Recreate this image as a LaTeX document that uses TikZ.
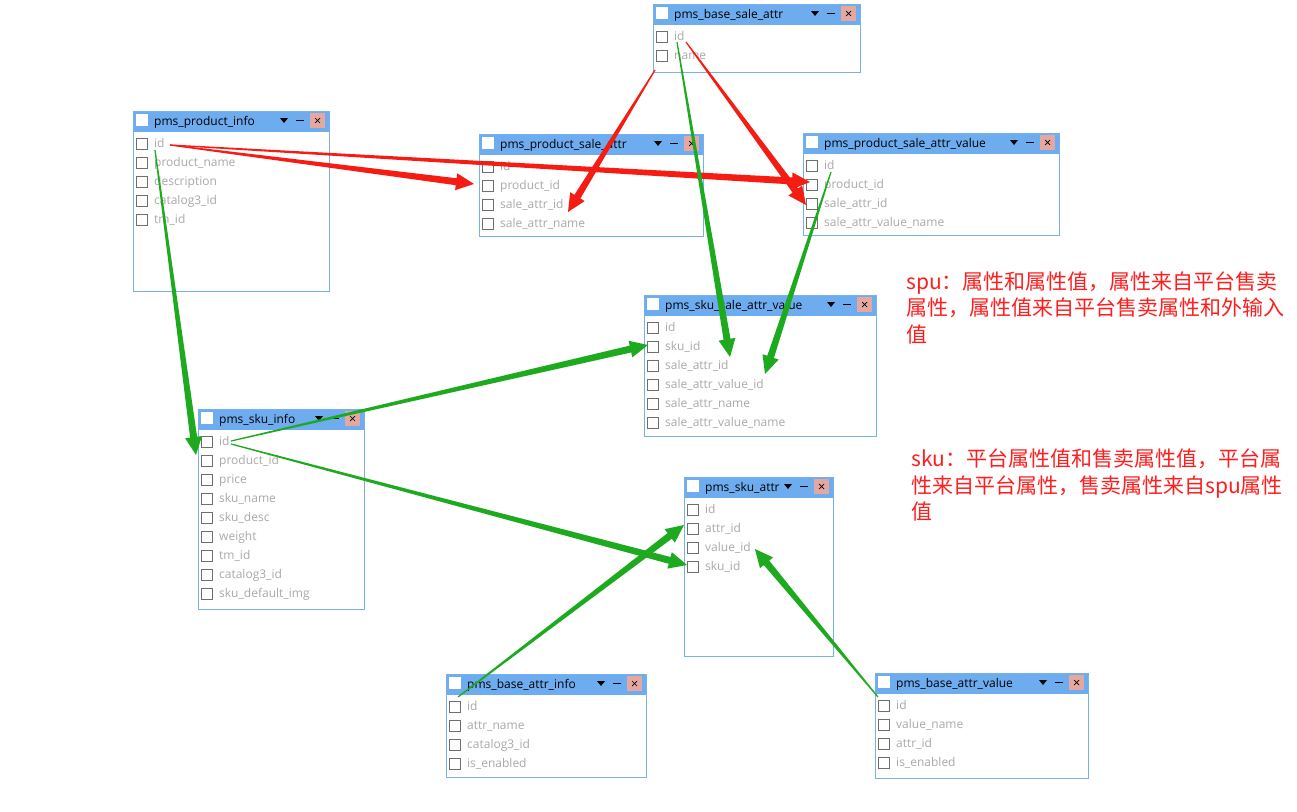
\documentclass[tikz,border=0pt]{standalone}
\usepackage{fontspec}
\setmainfont{Open Sans}
\newfontfamily\cjkfont{Noto Sans CJK SC}
\usetikzlibrary{calc}

\definecolor{headblue}{RGB}{110,172,240}
\definecolor{edgeblue}{RGB}{118,176,238}
\definecolor{closepink}{RGB}{228,168,160}
\definecolor{rowgray}{RGB}{172,168,168}
\definecolor{boxgray}{RGB}{110,110,110}
\definecolor{arrowred}{RGB}{245,28,20}
\definecolor{arrowgreen}{RGB}{30,170,30}
\definecolor{notered}{RGB}{255,30,30}

\tikzset{
  titletext/.style={font=\fontsize{12}{14}\selectfont, text=black, inner sep=0pt,
    anchor=west, text height=9pt, text depth=3pt},
  rowtext/.style={font=\fontsize{12}{14}\selectfont, text=rowgray, inner sep=0pt,
    anchor=west, text height=9pt, text depth=3pt},
  notetext/.style={font=\cjkfont\fontsize{21}{26}\selectfont, text=notered,
    inner sep=0pt, anchor=base west},
}

% a table window: id, left, top, right, bottom, title, rows
\newcommand\dbtable[7]{%
  \fill[white] (#2,#3) rectangle (#4,#5);
  \fill[headblue] (#2,#3) rectangle (#4,{#3+21});
  \draw[edgeblue, line width=1pt] (#2,#3) rectangle (#4,#5);
  \fill[white] ({#2+3},{#3+3}) rectangle ({#2+15},{#3+15});
  \node[titletext] (#1-title) at ({#2+21},{#3+11.5}) {#6};
  \fill[closepink] ({#4-19},{#3+2}) rectangle ({#4-4},{#3+17});
  \draw[black, line width=0.7pt] ({#4-14},{#3+7}) -- ({#4-9},{#3+12})
    ({#4-14},{#3+12}) -- ({#4-9},{#3+7});
  \draw[black, line width=1pt] ({#4-33},{#3+9}) -- ({#4-25},{#3+9});
  \fill[black] ({#4-49},{#3+7}) -- ({#4-41},{#3+7}) -- ({#4-45},{#3+12}) -- cycle;
  \foreach \rowtxt [count=\i] in {#7} {
    \draw[boxgray, line width=0.9pt] ({#2+3.5},{#3+33+19*(\i-1)-5.5}) rectangle ++(11,11);
    \node[rowtext] (#1-\i) at ({#2+21},{#3+33+19*(\i-1)}) {\rowtxt};
  }
}

% tapered arrow: colour, from, to
\newcommand\taper[3]{%
  \coordinate (tp-h) at ($(#3)!18pt!(#2)$);
  \fill[#1] ($(#2)!0.6pt!90:(#3)$) -- ($(tp-h)!3.5pt!90:(#3)$)
    -- ($(tp-h)!8.5pt!90:(#3)$) -- (#3) -- ($(tp-h)!8.5pt!-90:(#3)$)
    -- ($(tp-h)!3.5pt!-90:(#3)$) -- ($(#2)!0.6pt!-90:(#3)$) -- cycle;
}

\begin{document}
\begin{tikzpicture}[x=1pt, y=-1pt]
\fill[white] (0,0) rectangle (1297,811);
\useasboundingbox (0,0) rectangle (1297,811);

\dbtable{pi}{133}{111}{329}{291}{pms\_product\_info}
  {id, product\_name, description, catalog3\_id, tm\_id}
\dbtable{pbs}{653}{4}{860}{72}{pms\_base\_sale\_attr}
  {id, name}
\dbtable{psa}{479}{134}{703}{236}{pms\_product\_sale\_attr}
  {id, product\_id, sale\_attr\_id, sale\_attr\_name}
\dbtable{pav}{803}{133}{1059}{235}{pms\_product\_sale\_attr\_value}
  {id, product\_id, sale\_attr\_id, sale\_attr\_value\_name}
\dbtable{ssav}{644}{295}{876}{436}{pms\_sku\_sale\_attr\_value}
  {id, sku\_id, sale\_attr\_id, sale\_attr\_value\_id, sale\_attr\_name, sale\_attr\_value\_name}
\dbtable{si}{198}{409}{364}{609}{pms\_sku\_info}
  {id, product\_id, price, sku\_name, sku\_desc, weight, tm\_id, catalog3\_id, sku\_default\_img}
\dbtable{sk}{684}{477}{833}{656}{pms\_sku\_attr}
  {id, attr\_id, value\_id, sku\_id}
\dbtable{bai}{446}{674}{646}{777}{pms\_base\_attr\_info}
  {id, attr\_name, catalog3\_id, is\_enabled}
\dbtable{bav}{875}{673}{1088}{778}{pms\_base\_attr\_value}
  {id, value\_name, attr\_id, is\_enabled}

% connector ends
\coordinate (a-from) at ($(pi-1.west)+(16,1)$);
\coordinate (a-to)   at ($(psa-2.west)+(-26,-2)$);
\coordinate (b-to)   at ($(pav-2.west)+(-14,-3)$);
\coordinate (c-from) at ($(pbs-2.west)+(-19,14)$);
\coordinate (c-to)   at ($(psa-3.west)+(68,7)$);
\coordinate (d-from) at ($(pbs-1.west)+(12,5)$);
\coordinate (d-to)   at ($(pav-3.west)+(-18,1)$);
\coordinate (e-from) at ($(pbs-1.west)+(3,5)$);
\coordinate (e-to)   at ($(ssav-3.west)+(65,-9)$);
\coordinate (f-from) at ($(pav-1.west)+(7,6)$);
\coordinate (f-to)   at ($(ssav-4.west)+(100,-11)$);
\coordinate (g-from) at ($(pi-1.west)+(1,6)$);
\coordinate (g-to)   at ($(si-2.west)+(-23,-6)$);
\coordinate (h-from) at ($(si-1.west)+(12,-1)$);
\coordinate (h-to)   at ($(ssav-2.west)+(-17,-2)$);
\coordinate (i-from) at ($(si-1.west)+(12,2)$);
\coordinate (i-to)   at ($(sk-4.west)+(-18,-2)$);
\coordinate (j-from) at ($(bai-1.west)+(-9,-10)$);
\coordinate (j-to)   at ($(sk-2.west)+(-21,-4)$);
\coordinate (k-from) at ($(bav-1.west)+(-18,-9)$);
\coordinate (k-to)   at ($(sk-3.west)+(50,1)$);

% spu links
\taper{arrowred}{a-from}{a-to}
\taper{arrowred}{a-from}{b-to}
\taper{arrowred}{c-from}{c-to}
\taper{arrowred}{d-from}{d-to}
% sku links
\taper{arrowgreen}{e-from}{e-to}
\taper{arrowgreen}{f-from}{f-to}
\taper{arrowgreen}{g-from}{g-to}
\taper{arrowgreen}{h-from}{h-to}
\taper{arrowgreen}{i-from}{i-to}
\taper{arrowgreen}{j-from}{j-to}
\taper{arrowgreen}{k-from}{k-to}

% notes
\node[notetext] (spu-1) at (906,289) {spu：属性和属性值，属性来自平台售卖};
\node[notetext] (spu-2) at (906,315.5) {属性，属性值来自平台售卖属性和外输入};
\node[notetext] (spu-3) at (906,342) {值};
\node[notetext] (sku-1) at (911,466.5) {sku：平台属性值和售卖属性值，平台属};
\node[notetext] (sku-2) at (911,493) {性来自平台属性，售卖属性来自spu属性};
\node[notetext] (sku-3) at (911,519.5) {值};
\end{tikzpicture}
\end{document}
